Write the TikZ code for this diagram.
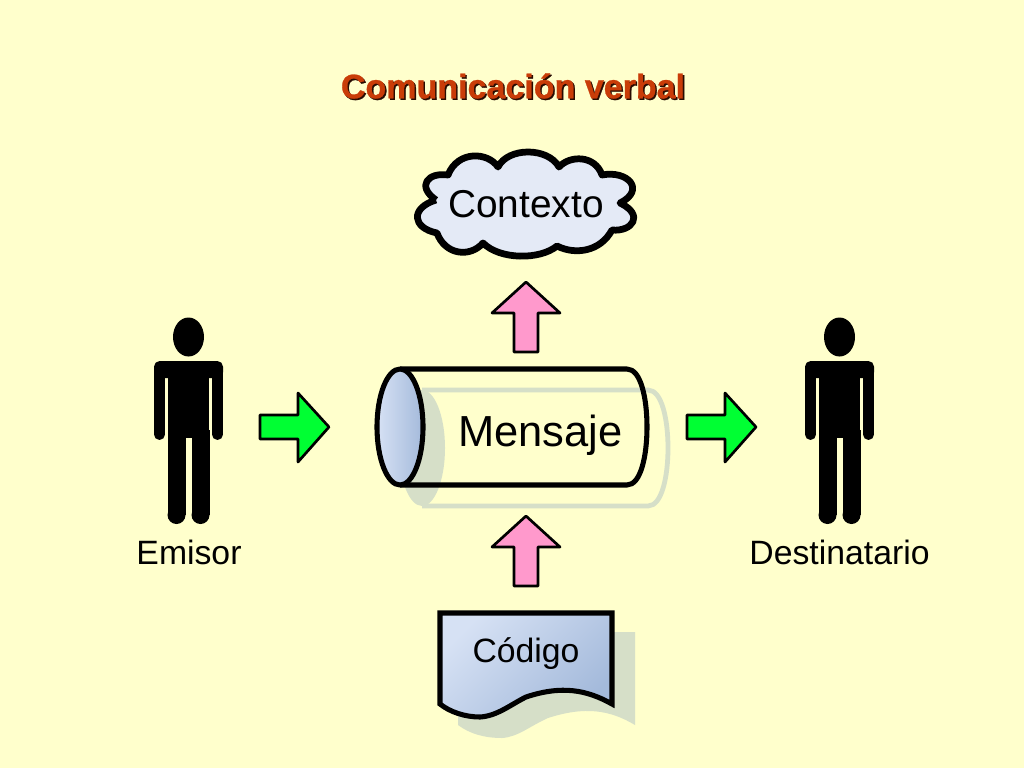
\documentclass[tikz,border=0pt]{standalone}
\usepackage{fontspec}
\setmainfont{Liberation Sans}
\definecolor{paper}{HTML}{FFFFCC}
\definecolor{shadowgreen}{HTML}{D6DFC8}
\definecolor{cloudblue}{HTML}{E4EAF6}
\definecolor{lightblue}{HTML}{D6E1F4}
\definecolor{darkblue}{HTML}{A4BADB}
\definecolor{titlered}{HTML}{C93C08}
\definecolor{arrowgreen}{HTML}{00FF33}
\definecolor{arrowpink}{HTML}{FF99CC}
\tikzset{
    label/.style={font=\fontsize{24}{28}\selectfont, inner sep=0pt},
    titlefont/.style={font=\bfseries\addfontfeature{FakeBold=0.8}\fontsize{24.2}{28}\selectfont, inner sep=0pt},
    outline/.style={draw=black, line width=3.6pt, line join=round},
    fatarrow/.style={draw=black, line width=1.9pt, line join=round},
    person/.pic={
        \fill (0, 337) ellipse [x radius=15.5, y radius=19.5];
        \fill[rounded corners=4pt] (-34.5, 361) rectangle (34.5, 378);
        \fill (-20.5, 365) rectangle (20.5, 438);
        \draw[line width=7.8pt, line cap=round] (-29, 370) -- (-29, 434.5);
        \draw[line width=7.8pt, line cap=round] (29, 370) -- (29, 434.5);
        \draw[line width=12.8pt] (-12, 430) -- (-12, 515);
        \draw[line width=12.8pt] (12, 430) -- (12, 515);
        \fill (-12, 515) circle [radius=9];
        \fill (12, 515) circle [radius=9];
    },
    rightarrow/.pic={
        \draw[fatarrow, fill=arrowgreen] (0, -12) -- (38, -12) -- (38, -34) -- (69, 0) -- (38, 35) -- (38, 12) -- (0, 12) -- cycle;
    },
    uparrow/.pic={
        \draw[fatarrow, fill=arrowpink] (0, 0) -- (34, 31) -- (12, 31) -- (12, 70) -- (-12, 70) -- (-12, 31) -- (-34, 31) -- cycle;
    }
}

\begin{document}
\begin{tikzpicture}[x=0.025cm, y=-0.025cm]
    \path[use as bounding box, fill=paper] (0, 0) rectangle (1024, 768);

    \node[titlefont, black!80!titlered] (tituloshadow) at (514.5, 87.5) {Comunicación verbal};
    \node[titlefont, titlered] (titulo) at (513, 86) {Comunicación verbal};

    % cloud
    \draw[outline, line width=4.8pt, fill=cloudblue] (436, 200) .. controls (416, 186) and (428, 172) .. (448, 175)
        .. controls (458, 150) and (488, 152) .. (498, 167) .. controls (508, 147) and (548, 147) .. (559, 167)
        .. controls (570, 155) and (595, 155) .. (602, 175) .. controls (628, 170) and (646, 190) .. (620, 203)
        .. controls (645, 215) and (632, 232) .. (612, 230) .. controls (600, 252) and (575, 255) .. (557, 246)
        .. controls (540, 260) and (500, 260) .. (483, 243) .. controls (470, 258) and (445, 255) .. (437, 233)
        .. controls (412, 228) and (410, 208) .. (436, 200);
    \node[label, font=\fontsize{27.6}{32}\selectfont] (contexto) at (526, 204) {Contexto};

    % cylinder
    \fill[shadowgreen] (422, 448) ellipse [x radius=23, y radius=58];
    \draw[shadowgreen, line width=3.4pt] (422, 390) -- (648, 390) .. controls (662, 390) and (668, 420) .. (668, 448) .. controls (668, 476) and (662, 506) .. (648, 506) -- (422, 506);
    \draw[outline] (400, 369) -- (627, 369) .. controls (641, 369) and (647, 399) .. (647, 427) .. controls (647, 455) and (641, 485) .. (627, 485) -- (400, 485);
    \draw[outline, left color=lightblue, right color=darkblue] (400, 427) ellipse [x radius=23, y radius=58];
    \node[label, font=\fontsize{30.9}{36}\selectfont] (mensaje) at (540.5, 435) {Mensaje};

    % document
    \fill[shadowgreen] (458, 632) -- (635, 632) -- (635, 725) .. controls (610, 710) and (585, 706) .. (548, 718) .. controls (530, 726) and (518, 737) .. (502, 738) .. controls (485, 738) and (470, 734) .. (458, 725) -- cycle;
    \draw[outline, top color=lightblue, bottom color=darkblue, shading angle=45, line join=miter] (440, 613) -- (612, 613) -- (612, 704) .. controls (587, 690) and (562, 685) .. (526, 697) .. controls (510, 705) and (497, 716) .. (480, 717) .. controls (465, 717) and (450, 712) .. (440, 704) -- cycle;
    \node[label] (codigo) at (526, 654) {Código};

    \pic at (188.5, 0) {person};
    \pic at (839.5, 0) {person};
    \node[label] (emisor) at (189, 552) {Emisor};
    \node[label] (destinatario) at (839.5, 552) {Destinatario};

    \pic at (260, 427) {rightarrow};
    \pic at (687, 427) {rightarrow};
    \pic at (526, 282) {uparrow};
    \pic at (526, 516) {uparrow};
\end{tikzpicture}
\end{document}
